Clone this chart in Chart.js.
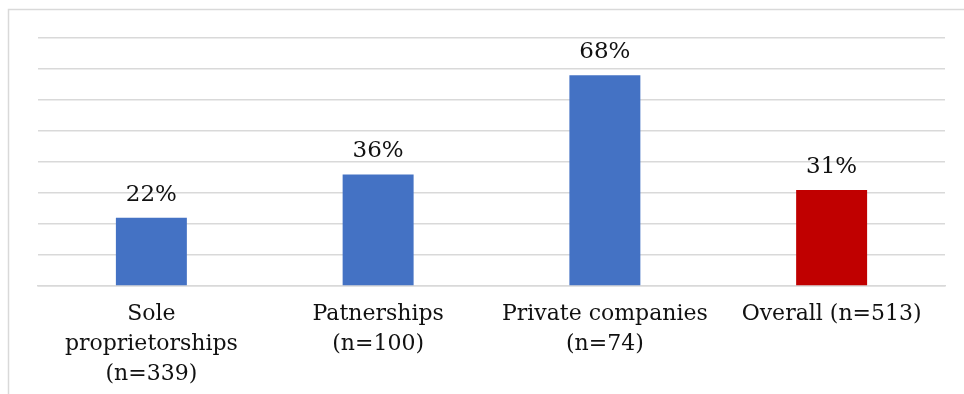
<!DOCTYPE html>
<html>
<head>
<meta charset="utf-8">
<script src="https://cdn.jsdelivr.net/npm/chart.js@4.4.1/dist/chart.umd.min.js"></script>
<style>
  html, body { margin: 0; padding: 0; background: #fff; }
  #wrap { width: 964px; height: 394px; position: relative; }
</style>
</head>
<body>
<div id="wrap"><canvas id="myChart" width="964" height="394"></canvas></div>
<script>
const categories = [
  ["Sole", "proprietorships", "(n=339)"],
  ["Patnerships", "(n=100)"],
  ["Private companies", "(n=74)"],
  ["Overall (n=513)"]
];
const shares = [22, 36, 68, 31];
const barColors = ["#4472C4", "#4472C4", "#4472C4", "#C00000"];
const yTicks = [0, 10, 20, 30, 40, 50, 60, 70, 80];

const labelFont = "'DejaVu Serif', 'Liberation Serif', serif";

// light frame around the whole chart
const framePlugin = {
  id: "frame",
  beforeDraw(chart) {
    const ctx = chart.ctx;
    ctx.save();
    ctx.strokeStyle = "#d9d9d9";
    ctx.lineWidth = 1.5;
    ctx.strokeRect(8.5, 9.5, chart.width + 20, chart.height + 20);
    ctx.restore();
  }
};

// percentage above each bar
const valueLabels = {
  id: "valueLabels",
  afterDatasetsDraw(chart) {
    const ctx = chart.ctx;
    const meta = chart.getDatasetMeta(0);
    ctx.save();
    ctx.font = "23px " + labelFont;
    ctx.fillStyle = "#111";
    ctx.textAlign = "center";
    ctx.textBaseline = "alphabetic";
    meta.data.forEach(function (bar, i) {
      ctx.fillText(shares[i] + "%", bar.x, bar.y - 17);
    });
    ctx.restore();
  }
};

const canvas = document.getElementById("myChart");
const ctx = canvas.getContext("2d");

new Chart(ctx, {
  type: "bar",
  data: {
    labels: categories,
    datasets: [{
      data: shares,
      backgroundColor: barColors,
      borderWidth: 0,
      barPercentage: 0.313,
      categoryPercentage: 1
    }]
  },
  options: {
    responsive: false,
    animation: false,
    devicePixelRatio: 1,
    layout: { padding: { left: 38, right: 19, top: 38, bottom: 0 } },
    plugins: {
      legend: { display: false },
      tooltip: { enabled: false }
    },
    scales: {
      x: {
        grid: { display: false, drawTicks: false },
        border: { display: true, color: "#d9d9d9", width: 1.5 },
        ticks: {
          color: "#111",
          padding: 13,
          maxRotation: 0,
          autoSkip: false,
          font: { family: labelFont, size: 22, lineHeight: 1.36 }
        },
        afterFit(scale) { scale.height = 108; }
      },
      y: {
        min: 0,
        max: 80,
        afterBuildTicks(scale) {
          scale.ticks = yTicks.map(v => ({ value: v }));
        },
        grid: { color: "#d9d9d9", lineWidth: 1.5, drawTicks: false },
        border: { display: false },
        ticks: { display: false },
        afterFit(scale) { scale.width = 0; }
      }
    }
  },
  plugins: [framePlugin, valueLabels]
});
</script>
</body>
</html>
